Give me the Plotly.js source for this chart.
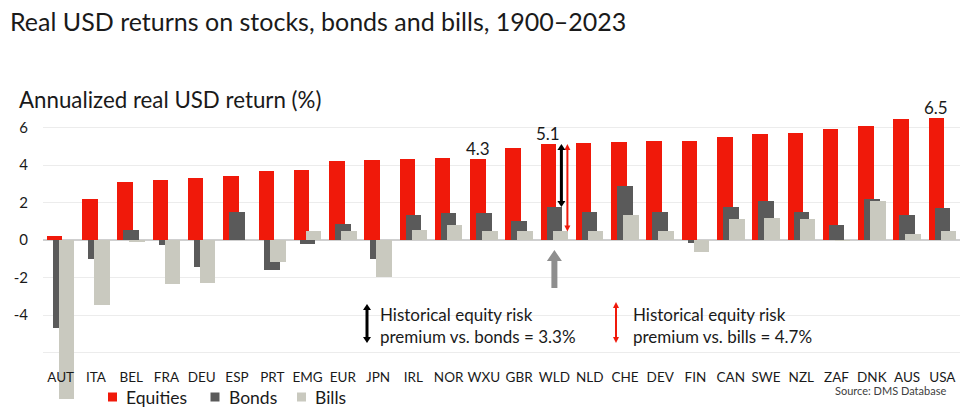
<!DOCTYPE html>
<html>
<head>
<meta charset="utf-8">
<script src="https://cdn.plot.ly/plotly-3.0.1.min.js"></script>
<style>html,body{margin:0;padding:0;background:#fff;}#chart{width:964px;height:414px;}</style>
</head>
<body>
<div id="chart"></div>
<script>
// ---- data ----
const categories = ['AUT','ITA','BEL','FRA','DEU','ESP','PRT','EMG','EUR','JPN','IRL','NOR','WXU','GBR','WLD','NLD','CHE','DEV','FIN','CAN','SWE','NZL','ZAF','DNK','AUS','USA'];
const equities = [0.2, 2.2, 3.1, 3.18, 3.3, 3.4, 3.66, 3.73, 4.2, 4.25, 4.33, 4.35, 4.33, 4.89, 5.12, 5.2, 5.24, 5.26, 5.28, 5.51, 5.63, 5.7, 5.9, 6.08, 6.45, 6.52];
const bonds    = [-4.71, -1.03, 0.53, -0.27, -1.46, 1.51, -1.62, -0.23, 0.87, -1.03, 1.31, 1.42, 1.42, 1.01, 1.76, 1.51, 2.86, 1.51, -0.15, 1.74, 2.06, 1.49, 0.78, 2.19, 1.35, 1.69];
const bills    = [-8.48, -3.47, -0.09, -2.36, -2.31, 0.0, -1.15, 0.48, 0.48, -1.95, 0.53, 0.78, 0.48, 0.48, 0.46, 0.48, 1.35, 0.48, -0.62, 1.12, 1.19, 1.12, -0.07, 2.10, 0.34, 0.46];
const seriesNames = ['Equities', 'Bonds', 'Bills'];
const labelledCats = ['WXU', 'WLD', 'USA'];
const yTickVals = [-6, -4, -2, 0, 2, 4, 6];
const yTickText = ['', '-4', '-2', '0', '2', '4', '6'];
const premiumBonds = 3.3;
const premiumBills = 4.7;

// ---- style ----
const FONT = 'Lato, "Open Sans", sans-serif';
const RED = '#f0190a', DARK = '#5a5a5a', LIGHT = '#c9c9bf';
const COLORS = [RED, DARK, LIGHT];
const W = 964, H = 414;
const M = {l: 43, r: 4, t: 105, b: 12};
const yRange = [-8.64, 7.2];
const plotW = W - M.l - M.r, plotH = H - M.t - M.b;
const pxPerUnit = plotH / (yRange[1] - yRange[0]);
const px2x = p => (p - M.l) / plotW;
const px2y = p => (H - M.b - p) / plotH;
const u = p => p / pxPerUnit; // pixels -> data units (y)

const barW = 0.44, shift = 0.17;
function barTrace(name, y, color, off) {
  return {type: 'bar', name: name, x: categories, y: y, width: barW, offset: off - barW / 2,
    marker: {color: color, line: {width: 0}}, hoverinfo: 'skip', showlegend: false};
}
const traces = [
  barTrace(seriesNames[0], equities, COLORS[0], -shift),
  barTrace(seriesNames[1], bonds, COLORS[1], 0),
  barTrace(seriesNames[2], bills, COLORS[2], shift)
];

const annotations = [];
const shapes = [];
labelledCats.forEach(c => {
  const i = categories.indexOf(c);
  annotations.push({x: c, y: equities[i], xref: 'x', yref: 'y', text: equities[i].toFixed(1),
    showarrow: false, yanchor: 'bottom', xanchor: 'center', xshift: -6, yshift: -2,
    font: {family: FONT, size: 17, color: '#1a1a1a'}});
});
annotations.push({xref: 'paper', yref: 'paper', x: px2x(17), y: px2y(100), xanchor: 'left', yanchor: 'middle',
  text: 'Annualized real USD return (%)', showarrow: false, font: {family: FONT, size: 22.3, color: '#1a1a1a'}});
annotations.push({xref: 'paper', yref: 'paper', x: px2x(378), y: px2y(325), xanchor: 'left', yanchor: 'middle', align: 'left',
  text: 'Historical equity risk<br>premium vs. bonds = ' + premiumBonds.toFixed(1) + '%', showarrow: false,
  font: {family: FONT, size: 17, color: '#1a1a1a'}});
annotations.push({xref: 'paper', yref: 'paper', x: px2x(631), y: px2y(325), xanchor: 'left', yanchor: 'middle', align: 'left',
  text: 'Historical equity risk<br>premium vs. bills = ' + premiumBills.toFixed(1) + '%', showarrow: false,
  font: {family: FONT, size: 17, color: '#1a1a1a'}});
annotations.push({xref: 'paper', yref: 'paper', x: px2x(948), y: px2y(390), xanchor: 'right', yanchor: 'middle',
  text: 'Source: DMS Database', showarrow: false, font: {family: FONT, size: 11, color: '#404040'}});

// legend (square swatches + labels)
const legendSwatchX = [108, 210.5, 297];
const legendY = 397;
seriesNames.forEach((name, k) => {
  const x0 = legendSwatchX[k];
  shapes.push({type: 'rect', xref: 'paper', yref: 'paper', x0: px2x(x0), x1: px2x(x0 + 9),
    y0: px2y(legendY + 4.5), y1: px2y(legendY - 4.5), fillcolor: COLORS[k], line: {width: 0}});
  annotations.push({xref: 'paper', yref: 'paper', x: px2x(x0 + 16), y: px2y(legendY), xanchor: 'left', yanchor: 'middle',
    text: name, showarrow: false, font: {family: FONT, size: 17.5, color: '#1a1a1a'}});
});

function dataDoubleArrow(idx, dx, yTop, yBot, color, sw, hw, hl) {
  shapes.push({type: 'line', xref: 'x', xsizemode: 'pixel', xanchor: idx, x0: dx, x1: dx,
    yref: 'y', y0: yTop - u(hl) + 0.05, y1: yBot + u(hl) - 0.05, line: {color: color, width: sw}, layer: 'above'});
  shapes.push({type: 'path', xref: 'x', xsizemode: 'pixel', xanchor: idx, yref: 'y',
    path: `M ${dx - hw / 2},${yTop - u(hl)} L ${dx + hw / 2},${yTop - u(hl)} L ${dx},${yTop} Z`,
    fillcolor: color, line: {width: 0}, layer: 'above'});
  shapes.push({type: 'path', xref: 'x', xsizemode: 'pixel', xanchor: idx, yref: 'y',
    path: `M ${dx - hw / 2},${yBot + u(hl)} L ${dx + hw / 2},${yBot + u(hl)} L ${dx},${yBot} Z`,
    fillcolor: color, line: {width: 0}, layer: 'above'});
}
const iW = categories.indexOf('WLD');
dataDoubleArrow(iW, 13, equities[iW], bills[iW], RED, 2, 6, 6);
dataDoubleArrow(iW, 7, equities[iW], bonds[iW], '#000000', 3, 8, 6);
{
  const tip = -u(10), hb = -u(21), bot = -u(48);
  shapes.push({type: 'path', xref: 'x', xsizemode: 'pixel', xanchor: iW, yref: 'y',
    path: `M 0,${tip} L 7.5,${hb} L 3,${hb} L 3,${bot} L -3,${bot} L -3,${hb} L -7.5,${hb} Z`,
    fillcolor: '#8e8e8e', line: {width: 0}, layer: 'above'});
}
function paperDoubleArrow(xp, yTopP, yBotP, color, sw, hw, hl) {
  shapes.push({type: 'line', xref: 'paper', yref: 'paper', x0: px2x(xp), x1: px2x(xp),
    y0: px2y(yTopP + hl - 1), y1: px2y(yBotP - hl + 1), line: {color: color, width: sw}});
  shapes.push({type: 'path', xref: 'paper', yref: 'paper', fillcolor: color, line: {width: 0},
    path: `M ${px2x(xp - hw / 2)},${px2y(yTopP + hl)} L ${px2x(xp + hw / 2)},${px2y(yTopP + hl)} L ${px2x(xp)},${px2y(yTopP)} Z`});
  shapes.push({type: 'path', xref: 'paper', yref: 'paper', fillcolor: color, line: {width: 0},
    path: `M ${px2x(xp - hw / 2)},${px2y(yBotP - hl)} L ${px2x(xp + hw / 2)},${px2y(yBotP - hl)} L ${px2x(xp)},${px2y(yBotP)} Z`});
}
paperDoubleArrow(367, 304, 343, '#000000', 3, 8, 6);
paperDoubleArrow(616, 302, 343, RED, 2, 6, 6);

const layout = {
  width: W, height: H,
  margin: M,
  paper_bgcolor: '#ffffff', plot_bgcolor: '#ffffff',
  font: {family: FONT, color: '#1a1a1a'},
  title: {text: 'Real USD returns on stocks, bonds and bills, 1900–2023', xref: 'container', yref: 'container',
    x: 10 / W, xanchor: 'left', y: 1 - 22 / H, yanchor: 'middle', font: {family: FONT, size: 25, color: '#1a1a1a'}},
  barmode: 'overlay',
  bargap: 0,
  xaxis: {type: 'category', range: [-0.5, categories.length - 0.5], showgrid: false, showline: false, zeroline: false,
    anchor: 'free', position: px2y(358),
    ticks: '', tickfont: {family: FONT, size: 13.5, color: '#1a1a1a'}, ticklabelstandoff: 9, fixedrange: true},
  yaxis: {range: yRange, tickvals: yTickVals, ticktext: yTickText, showgrid: true, gridcolor: '#ececec', gridwidth: 1,
    zeroline: true, zerolinecolor: '#cfcfcf', zerolinewidth: 1.5, showline: false, ticks: '',
    tickfont: {family: FONT, size: 15, color: '#1a1a1a'}, ticklabelstandoff: 14, fixedrange: true},
  showlegend: false,
  annotations: annotations,
  shapes: shapes
};

Plotly.newPlot('chart', traces, layout, {displayModeBar: false, staticPlot: true});
</script>
</body>
</html>
